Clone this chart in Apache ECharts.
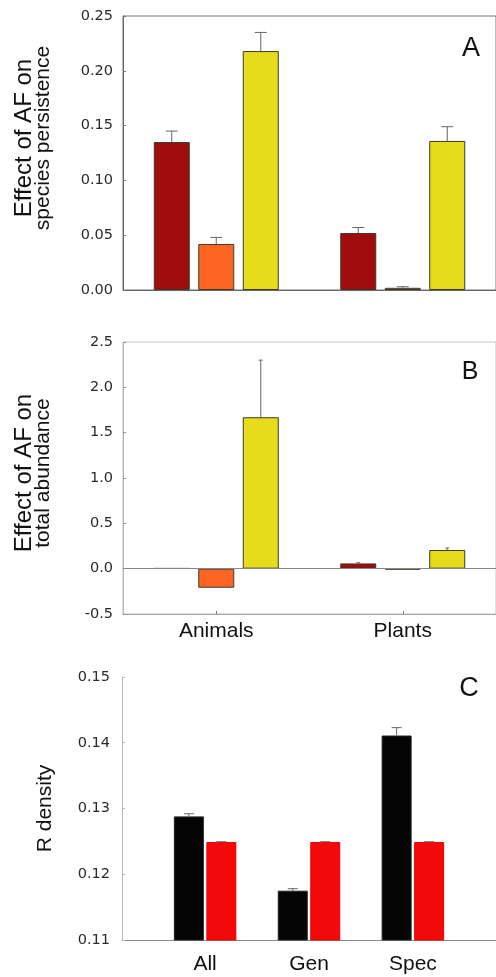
<!DOCTYPE html>
<html>
<head>
<meta charset="utf-8">
<script src="https://cdn.jsdelivr.net/npm/echarts@6/dist/echarts.min.js"></script>
<style>
html,body{margin:0;padding:0;background:#fff;}
#chart{width:496px;height:977px;}
</style>
</head>
<body>
<div id="chart"></div>
<script>
// ---------- DATA ----------
const groupsAB = ['Animals', 'Plants'];

// Panel A: effect of AF on species persistence
const persistDark   = [0.135, 0.052];
const persistOrange = [0.042, 0.002];
const persistYellow = [0.218, 0.136];
const persistDarkErr   = [0.010, 0.005];
const persistOrangeErr = [0.006, 0.001];
const persistYellowErr = [0.017, 0.013];

// Panel B: effect of AF on total abundance
const abundDark   = [0.005, 0.058];
const abundOrange = [-0.21, -0.01];
const abundYellow = [1.67, 0.206];
const abundDarkErr   = [0, 0.008];
const abundOrangeErr = [0, 0];
const abundYellowErr = [0.63, 0.022];

// Panel C: R density
const groupsC = ['All', 'Gen', 'Spec'];
const groupsCPos = [1, 2, 3];
const rDensityBlack = [0.1288, 0.1175, 0.1411];
const rDensityRed   = [0.1249, 0.1249, 0.1249];
const rDensityBlackErr = [0.0004, 0.0003, 0.0012];
const rDensityRedErr   = [0.00005, 0.00005, 0.00005];

// axis ranges
const axisA = {min: 0, max: 0.25, interval: 0.05};
const axisB = {min: -0.5, max: 2.5, interval: 0.5};
const axisC = {min: 0.11, max: 0.15, interval: 0.01};

// ---------- STYLE ----------
const SANS = '"Liberation Sans", Arial, sans-serif';
const TICKFONT = '"DejaVu Sans", sans-serif';
const C_DARK = '#A00C0C', C_ORANGE = '#FF6522', C_YELLOW = '#E6DC1C';
const C_BLACK = '#050505', C_RED = '#F20A0A';
const BW_AB = 36, GAP_AB = 8.5, BW_C = 30, GAP_C = 2.5;

function errSeries(xi, yi, xs, vals, errs, k, n, bw, gap, capW) {
  const data = xs.map((x, i) => [x, vals[i], vals[i] + errs[i], errs[i]]);
  return {
    type: 'custom', xAxisIndex: xi, yAxisIndex: yi, silent: true, z: 5,
    data: data,
    renderItem: function (params, api) {
      if (api.value(3) === 0) return null;
      const base = api.coord([api.value(0), api.value(1)]);
      const top = api.coord([api.value(0), api.value(2)]);
      const off = -(n * bw + (n - 1) * gap) / 2 + k * (bw + gap) + bw / 2;
      const x = base[0] + off;
      const st = {stroke: '#666', lineWidth: 1};
      return {type: 'group', children: [
        {type: 'line', shape: {x1: x, y1: base[1], x2: x, y2: top[1]}, style: st},
        {type: 'line', shape: {x1: x - capW / 2, y1: top[1], x2: x + capW / 2, y2: top[1]}, style: st}
      ]};
    }
  };
}

function barSeries(xi, yi, data, color, bw, gap, extra) {
  return Object.assign({
    type: 'bar', xAxisIndex: xi, yAxisIndex: yi, data: data,
    barWidth: bw, barGap: (gap / bw * 100) + '%',
    itemStyle: {color: color, borderColor: '#3e3a2a', borderWidth: 1},
    silent: true
  }, extra || {});
}

const tickLabel = (d) => ({color: '#2a2a2a', fontFamily: TICKFONT, fontSize: 14.5, margin: 10,
  formatter: (v) => v.toFixed(d)});

const richTitle = {
  a: {fontFamily: SANS, fontSize: 24, color: '#111', lineHeight: 19, align: 'center'},
  b: {fontFamily: SANS, fontSize: 21, color: '#111', lineHeight: 19, align: 'center'}
};

const option = {
  animation: false,
  grid: [
    {left: 123, top: 16, height: 274, width: 381, show: true, borderColor: '#777', borderWidth: 1},
    {left: 123, top: 342, height: 272, width: 381, show: true, borderColor: '#c4c4c4', borderWidth: 1},
    {left: 122, top: 677, height: 263, width: 384}
  ],
  xAxis: [
    {gridIndex: 0, type: 'category', data: groupsAB,
     axisLine: {lineStyle: {color: '#666'}}, axisTick: {show: false}, axisLabel: {show: false}},
    {gridIndex: 1, type: 'category', data: groupsAB,
     axisLine: {onZero: false, lineStyle: {color: '#999', type: 'dotted'}},
     axisTick: {show: true, inside: true, length: 3, alignWithLabel: true, lineStyle: {color: '#777'}},
     axisLabel: {color: '#111', fontFamily: SANS, fontSize: 21, margin: 7}},
    {gridIndex: 2, type: 'value', min: 0.2, max: 3.8,
     splitLine: {show: false},
     axisLine: {lineStyle: {color: '#888'}},
     axisTick: {show: false},
     axisLabel: {color: '#111', fontFamily: SANS, fontSize: 21, margin: 14,
       customValues: groupsCPos,
       formatter: (v) => groupsC[groupsCPos.indexOf(Math.round(v))] || ''}}
  ],
  yAxis: [
    {gridIndex: 0, type: 'value', min: axisA.min, max: axisA.max, interval: axisA.interval,
     splitLine: {show: false},
     axisLine: {show: true, lineStyle: {color: '#666'}},
     axisTick: {show: true, inside: true, length: 3, lineStyle: {color: '#777'}},
     axisLabel: tickLabel(2),
     name: '{a|Effect of AF on}\n{b|species persistence}',
     nameLocation: 'middle', nameGap: 70, nameRotate: 90,
     nameTextStyle: {padding: [0, 0, 0, 30], rich: richTitle}},
    {gridIndex: 1, type: 'value', min: axisB.min, max: axisB.max, interval: axisB.interval,
     splitLine: {show: false},
     axisLine: {show: true, onZero: false, lineStyle: {color: '#aaa', type: 'dotted'}},
     axisTick: {show: true, inside: true, length: 3, lineStyle: {color: '#999'}},
     axisLabel: tickLabel(1),
     name: '{a|Effect of AF on}\n{b|total abundance}',
     nameLocation: 'middle', nameGap: 70, nameRotate: 90,
     nameTextStyle: {padding: [0, 0, 0, 10], rich: richTitle}},
    {gridIndex: 2, type: 'value', min: axisC.min, max: axisC.max, interval: axisC.interval,
     splitLine: {show: false},
     axisLine: {show: true, lineStyle: {color: '#aaa', type: 'dotted'}},
     axisTick: {show: true, inside: true, length: 3, lineStyle: {color: '#bbb'}},
     axisLabel: Object.assign(tickLabel(2), {margin: 12}),
     name: 'R density', nameLocation: 'middle', nameGap: 66, nameRotate: 90,
     nameTextStyle: {fontFamily: SANS, fontSize: 21, color: '#111'}}
  ],
  graphic: [
    {type: 'text', x: 471, y: 49, style: {text: 'A', fontFamily: SANS, fontSize: 27, fill: '#111', textAlign: 'center', textVerticalAlign: 'middle'}},
    {type: 'text', x: 470, y: 372, style: {text: 'B', fontFamily: SANS, fontSize: 25, fill: '#111', textAlign: 'center', textVerticalAlign: 'middle'}},
    {type: 'text', x: 469, y: 689, style: {text: 'C', fontFamily: SANS, fontSize: 27, fill: '#111', textAlign: 'center', textVerticalAlign: 'middle'}}
  ],
  series: [
    barSeries(0, 0, persistDark, C_DARK, BW_AB, GAP_AB),
    barSeries(0, 0, persistOrange, C_ORANGE, BW_AB, GAP_AB),
    barSeries(0, 0, persistYellow, C_YELLOW, BW_AB, GAP_AB),
    errSeries(0, 0, [0, 1], persistDark, persistDarkErr, 0, 3, BW_AB, GAP_AB, 12),
    errSeries(0, 0, [0, 1], persistOrange, persistOrangeErr, 1, 3, BW_AB, GAP_AB, 12),
    errSeries(0, 0, [0, 1], persistYellow, persistYellowErr, 2, 3, BW_AB, GAP_AB, 12),

    barSeries(1, 1, abundDark, C_DARK, BW_AB, GAP_AB, {
      markLine: {silent: true, symbol: 'none', label: {show: false},
        lineStyle: {color: '#888', width: 1, type: 'solid'}, data: [{yAxis: 0}]}}),
    barSeries(1, 1, abundOrange, C_ORANGE, BW_AB, GAP_AB),
    barSeries(1, 1, abundYellow, C_YELLOW, BW_AB, GAP_AB),
    errSeries(1, 1, [0, 1], abundDark, abundDarkErr, 0, 3, BW_AB, GAP_AB, 4),
    errSeries(1, 1, [0, 1], abundOrange, abundOrangeErr, 1, 3, BW_AB, GAP_AB, 4),
    errSeries(1, 1, [0, 1], abundYellow, abundYellowErr, 2, 3, BW_AB, GAP_AB, 4),

    barSeries(2, 2, groupsCPos.map((x, i) => [x, rDensityBlack[i]]), C_BLACK, BW_C, GAP_C),
    barSeries(2, 2, groupsCPos.map((x, i) => [x, rDensityRed[i]]), C_RED, BW_C, GAP_C),
    errSeries(2, 2, groupsCPos, rDensityBlack, rDensityBlackErr, 0, 2, BW_C, GAP_C, 10),
    errSeries(2, 2, groupsCPos, rDensityRed, rDensityRedErr, 1, 2, BW_C, GAP_C, 10)
  ]
};
option.series[12].itemStyle.borderColor = '#222';
option.series[13].itemStyle.borderColor = '#e00';

const chart = echarts.init(document.getElementById('chart'), null, {renderer: 'canvas'});
chart.setOption(option);
</script>
</body>
</html>
